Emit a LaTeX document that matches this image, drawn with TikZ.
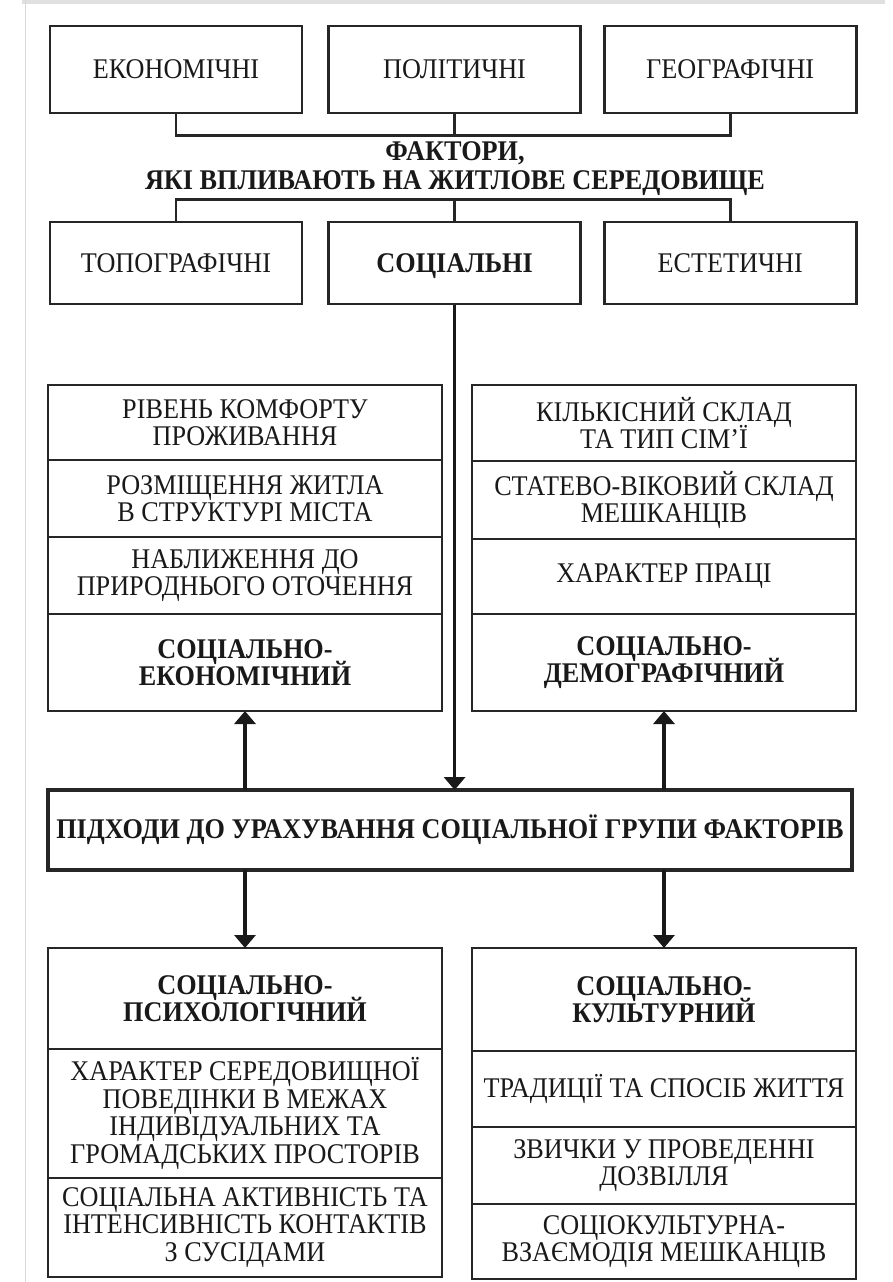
\documentclass[tikz,border=0pt]{standalone}
\usepackage{fontspec}
\setmainfont[FakeStretch=0.92]{Liberation Serif}
\usetikzlibrary{positioning, arrows.meta}

\newcommand{\cellfont}{\fontsize{28.5}{27.5}\selectfont\lineskiplimit=-30pt}
\newcommand{\titlefont}{\fontsize{28.5}{29}\selectfont\lineskiplimit=-30pt\bfseries}

\begin{document}
\begin{tikzpicture}[x=1pt, y=1pt]

	\tikzstyle{factor}=[draw=black!85, line width=2.6pt, minimum width=252pt, inner sep=2pt, text depth=0pt, align=center, text=black!90, font=\cellfont]
	\tikzstyle{cell}=[draw=black!85, line width=2.6pt, outer sep=0pt, inner sep=2pt, align=center, text=black!90, font=\cellfont]
	\tikzstyle{leftcell}=[cell, minimum width=394pt]
	\tikzstyle{rightcell}=[cell, minimum width=384pt]

	\tikzstyle{link}=[draw=black!85, line width=2.8pt]
	\tikzstyle{arrow}=[draw=black!90, line width=3.6pt, -{Triangle[length=13pt, width=21pt]}]

	\useasboundingbox (0,0) rectangle (892,-1282);
	\fill[black!12] (22,0) rectangle (885,-4);
	\draw[black!15, line width=1pt] (25,0) -- (25,-1282);

	% factors
	\node[factor, minimum height=87pt](eco) at (176,-69.5){ЕКОНОМІЧНІ};
	\node[factor, minimum height=87pt, right=24pt of eco](pol){ПОЛІТИЧНІ};
	\node[factor, minimum height=87pt, right=21pt of pol](geo){ГЕОГРАФІЧНІ};

	\coordinate[below=21pt of pol.south] (upjoin);
	\draw[link] (eco.south) |- (upjoin) -| (geo.south);
	\draw[link] (pol.south) -- (upjoin);

	\node[font=\titlefont, align=center, text=black!90](factors) at (455,-169){ФАКТОРИ,\\ЯКІ ВПЛИВАЮТЬ НА ЖИТЛОВЕ СЕРЕДОВИЩЕ};

	\node[factor, minimum height=82pt](topo) at (176,-263){ТОПОГРАФІЧНІ};
	\node[factor, minimum height=82pt, right=24pt of topo, font=\cellfont\bfseries](soc){СОЦІАЛЬНІ};
	\node[factor, minimum height=82pt, right=21pt of soc](est){ЕСТЕТИЧНІ};

	\coordinate[above=21pt of soc.north] (lowjoin);
	\draw[link] (topo.north) |- (lowjoin) -| (est.north);
	\draw[link] (soc.north) -- (lowjoin);

	% upper approaches
	\node[leftcell, minimum height=75pt](comfort) at (245,-422.5){РІВЕНЬ КОМФОРТУ\\ПРОЖИВАННЯ};
	\node[leftcell, minimum height=77pt, below=0pt of comfort](housing){РОЗМІЩЕННЯ ЖИТЛА\\В СТРУКТУРІ МІСТА};
	\node[leftcell, minimum height=77pt, below=0pt of housing](nature){НАБЛИЖЕННЯ ДО\\ПРИРОДНЬОГО ОТОЧЕННЯ};
	\node[leftcell, minimum height=97pt, below=0pt of nature, font=\cellfont\bfseries](socecon){СОЦІАЛЬНО-\\ЕКОНОМІЧНИЙ};

	\node[rightcell, minimum height=76pt](family) at (664,-423){КІЛЬКІСНИЙ СКЛАД\\ТА ТИП СІМ’Ї};
	\node[rightcell, minimum height=78pt, below=0pt of family](agesex){СТАТЕВО-ВІКОВИЙ СКЛАД\\МЕШКАНЦІВ};
	\node[rightcell, minimum height=75pt, below=0pt of agesex](labour){ХАРАКТЕР ПРАЦІ};
	\node[rightcell, minimum height=97pt, below=0pt of labour, font=\cellfont\bfseries](socdem){СОЦІАЛЬНО-\\ДЕМОГРАФІЧНИЙ};

	% approaches
	\node[cell, line width=3.6pt, minimum width=804pt, minimum height=80pt, font=\cellfont\bfseries](approach) at (450,-830){ПІДХОДИ ДО УРАХУВАННЯ СОЦІАЛЬНОЇ ГРУПИ ФАКТОРІВ};

	\draw[arrow] (soc.south) -- (soc.south |- approach.north);
	\draw[arrow] (approach.north -| socecon.south) -- (socecon.south);
	\draw[arrow] (approach.north -| socdem.south) -- (socdem.south);

	% lower approaches
	\node[leftcell, minimum height=101pt, font=\cellfont\bfseries](psych) at (245,-998.5){СОЦІАЛЬНО-\\ПСИХОЛОГІЧНИЙ};
	\node[leftcell, minimum height=129pt, below=0pt of psych](behaviour){ХАРАКТЕР СЕРЕДОВИЩНОЇ\\ПОВЕДІНКИ В МЕЖАХ\\ІНДИВІДУАЛЬНИХ ТА\\ГРОМАДСЬКИХ ПРОСТОРІВ};
	\node[leftcell, minimum height=99pt, below=0pt of behaviour](contacts){СОЦІАЛЬНА АКТИВНІСТЬ ТА\\ІНТЕНСИВНІСТЬ КОНТАКТІВ\\З СУСІДАМИ};

	\node[rightcell, minimum height=103pt, font=\cellfont\bfseries](cult) at (664,-999.5){СОЦІАЛЬНО-\\КУЛЬТУРНИЙ};
	\node[rightcell, minimum height=76pt, below=0pt of cult](tradition){ТРАДИЦІЇ ТА СПОСІБ ЖИТТЯ};
	\node[rightcell, minimum height=77pt, below=0pt of tradition](leisure){ЗВИЧКИ У ПРОВЕДЕННІ\\ДОЗВІЛЛЯ};
	\node[rightcell, minimum height=75pt, below=0pt of leisure](interaction){СОЦІОКУЛЬТУРНА-\\ВЗАЄМОДІЯ МЕШКАНЦІВ};

	\draw[arrow] (approach.south -| psych.north) -- (psych.north);
	\draw[arrow] (approach.south -| cult.north) -- (cult.north);

\end{tikzpicture}
\end{document}
